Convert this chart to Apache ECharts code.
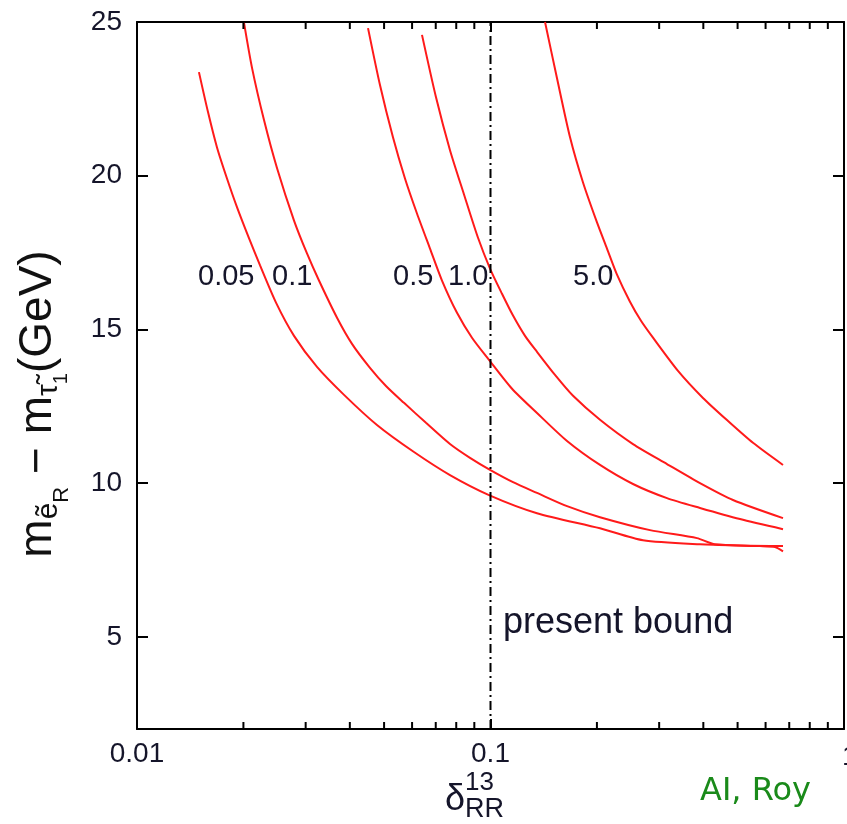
<!DOCTYPE html>
<html>
<head>
<meta charset="utf-8">
<script src="https://cdn.jsdelivr.net/npm/echarts@6/dist/echarts.min.js"></script>
<style>
html,body{margin:0;padding:0;background:#fff;}
#chart{width:847px;height:824px;}
</style>
</head>
<body>
<div id="chart"></div>
<script>
// ---- data ----
const xMin = 0.01, xMax = 1;
const yMin = 2, yMax = 25;
const yTicks = [5, 10, 15, 20, 25];
const xTickLabels = {0.01: '0.01', 0.1: '0.1', 1: '1'};
const minorTickVals = [0.02,0.03,0.04,0.05,0.06,0.07,0.08,0.09,0.2,0.3,0.4,0.5,0.6,0.7,0.8,0.9];
const presentBound = 0.1;

const curveNames = ['0.05', '0.1', '0.5', '1.0', '5.0'];
const c005x = [0.01497,0.01588,0.01684,0.01797,0.01919,0.02075,0.02229,0.02473,0.02781,0.03230,0.03852,0.04774,0.06075,0.07681,0.09903,0.13539,0.20406,0.27001,0.39136,0.57852,0.63798,0.67209];
const c005y = [23.37,22.07,20.92,19.91,18.97,17.96,17.08,15.87,14.79,13.78,12.87,11.89,11.01,10.26,9.61,9.02,8.53,8.14,8.01,7.95,7.92,7.78];
const c01x = [0.02008,0.02116,0.02288,0.02490,0.02781,0.03026,0.03272,0.03680,0.04057,0.04561,0.05062,0.05692,0.06569,0.07681,0.08750,0.09968,0.11580,0.13539,0.16463,0.20406,0.28260,0.38379,0.43157,0.67209];
const c01y = [24.97,23.50,21.80,20.24,18.54,17.47,16.59,15.38,14.53,13.75,13.16,12.61,11.96,11.27,10.82,10.43,10.03,9.68,9.25,8.89,8.47,8.21,8.01,7.95];
const c05x = [0.04503,0.04868,0.05298,0.05729,0.06195,0.06743,0.07291,0.08040,0.08864,0.09903,0.11505,0.13539,0.16463,0.20406,0.25297,0.31572,0.39136,0.50791,0.67209];
const c05y = [24.80,22.95,21.25,19.91,18.77,17.63,16.59,15.54,14.73,14.01,13.07,12.28,11.37,10.59,9.97,9.51,9.19,8.83,8.50];
const c10x = [0.06400,0.07012,0.07681,0.08415,0.09219,0.09968,0.10778,0.11580,0.12521,0.13539,0.15222,0.17120,0.20406,0.25297,0.31572,0.39136,0.48528,0.67209];
const c10y = [24.58,22.55,20.83,19.39,17.98,16.98,16.16,15.45,14.79,14.27,13.52,12.84,12.06,11.27,10.62,10.00,9.45,8.86];
const c50x = [0.14263,0.15422,0.16788,0.18269,0.20011,0.21357,0.22796,0.24807,0.26651,0.28818,0.33918,0.39908,0.46970,0.55273,0.67209];
const c50y = [25.00,23.17,21.25,19.78,18.48,17.63,16.78,15.90,15.28,14.73,13.65,12.77,12.02,11.31,10.59];
const curvesX = [c005x, c01x, c05x, c10x, c50x];
const curvesY = [c005y, c01y, c05y, c10y, c50y];

// ---- chart ----
const chart = echarts.init(document.getElementById('chart'), null, {renderer: 'canvas'});
const FONT = 'Liberation Sans, Arial, Helvetica, sans-serif';
const TXT = '#15152a';

function axisX(pos, showLabel) {
  return {
    type: 'log', logBase: 10, min: xMin, max: xMax, position: pos,
    axisLine: {show: true, lineStyle: {color: '#000', width: 2}},
    axisTick: {show: true, inside: true, length: 10, lineStyle: {color: '#000', width: 2}},
    minorTick: {show: false},
    splitLine: {show: false},
    axisLabel: {
      show: showLabel, fontSize: 28, fontFamily: FONT, color: TXT, margin: 11,
      showMinLabel: true, showMaxLabel: true,
      formatter: v => {
        const key = Math.abs(v - 1) < 1e-9 ? 1 : (Math.abs(v - 0.1) < 1e-9 ? 0.1 : 0.01);
        return key === 1 ? '' : xTickLabels[key];
      }
    }
  };
}
function axisY(pos, showLabel) {
  return {
    type: 'value', min: yMin, max: yMax, position: pos,
    axisLine: {show: true, lineStyle: {color: '#000', width: 2}},
    axisTick: {show: true, inside: true, length: 11, customValues: yTicks, lineStyle: {color: '#000', width: 2}},
    splitLine: {show: false},
    axisLabel: {show: showLabel, customValues: yTicks, fontSize: 28, fontFamily: FONT, color: TXT, margin: 15}
  };
}

const series = curvesX.map((xs, i) => ({
  name: curveNames[i], type: 'line', xAxisIndex: 0, yAxisIndex: 0,
  data: xs.map((x, j) => [x, curvesY[i][j]]),
  showSymbol: false, symbol: 'none', smooth: 0.25,
  lineStyle: {color: '#ff1a1a', width: 2},
  z: 3
}));
series.push({
  type: 'line', xAxisIndex: 0, yAxisIndex: 0,
  data: [[presentBound, yMin], [presentBound, yMax]],
  symbol: 'none',
  lineStyle: {color: '#000', width: 2, type: [9, 4, 2, 4]},
  z: 4
});
series.push({
  type: 'custom', xAxisIndex: 0, yAxisIndex: 0, silent: true, clip: false,
  data: minorTickVals.map(v => [v, yMin]),
  renderItem: (params, api) => {
    const v = api.value(0);
    const b = api.coord([v, yMin]);
    const t = api.coord([v, yMax]);
    return {type: 'group', children: [
      {type: 'line', shape: {x1: b[0], y1: b[1], x2: b[0], y2: b[1] - 7}, style: {stroke: '#000', lineWidth: 2}},
      {type: 'line', shape: {x1: t[0], y1: t[1], x2: t[0], y2: t[1] + 7}, style: {stroke: '#000', lineWidth: 2}}
    ]};
  },
  z: 5
});

// measure helper for composed labels
const mctx = document.createElement('canvas').getContext('2d');
function tw(str, fs) { mctx.font = fs + 'px ' + FONT; return mctx.measureText(str).width; }

// y-axis title pieces (rotated group)
const yPieces = [
  {t: 'm', fs: 46, dy: 0},
  {t: 'ẽ', fs: 30, dy: 6},
  {t: 'R', fs: 22, dy: 16},
  {t: ' − m', fs: 46, dy: 0},
  {t: 'τ̃', fs: 30, dy: 6},
  {t: '1', fs: 20, dy: 15},
  {t: '(GeV)', fs: 46, dy: 0}
];
let acc = 0;
const yChildren = yPieces.map(p => {
  const el = {type: 'text', x: acc, y: p.dy - 0.33 * p.fs,
    style: {text: p.t, fontSize: p.fs, fontFamily: FONT, fill: '#111', align: 'left', verticalAlign: 'middle'}};
  acc += tw(p.t, p.fs);
  return el;
});
const yTitleW = acc;

const labelStyle = (txt, x, y, fs, extra) => Object.assign({
  type: 'text', x: x, y: y,
  style: {text: txt, fontSize: fs, fontFamily: FONT, fill: TXT, align: 'left', verticalAlign: 'middle'}
}, extra || {});

const graphics = [
  {type: 'group', x: 53, y: 404 + yTitleW / 2, rotation: Math.PI / 2, children: yChildren},
  labelStyle('0.05', 198, 277, 29),
  labelStyle('0.1', 272, 277, 29),
  labelStyle('0.5', 393, 277, 29),
  labelStyle('1.0', 448, 277, 29),
  labelStyle('5.0', 573, 277, 29),
  labelStyle('present bound', 503, 623, 36),
  labelStyle('1', 842, 757, 28),
  // x-axis title delta_RR^13
  labelStyle('δ', 445, 800, 36),
  labelStyle('13', 465, 783, 26),
  labelStyle('RR', 465, 810, 27),
  {type: 'text', x: 700, y: 792, style: {text: 'AI, Roy', fontSize: 32, fontFamily: 'DejaVu Sans, Verdana, sans-serif', fill: '#1a8a1a', align: 'left', verticalAlign: 'middle'}}
];

chart.setOption({
  animation: false,
  backgroundColor: '#fff',
  grid: {left: 137, right: 3, top: 22, bottom: 95, containLabel: false},
  xAxis: [axisX('bottom', true), axisX('top', false)],
  yAxis: [axisY('left', true), axisY('right', false)],
  series: series,
  graphic: graphics
});
</script>
</body>
</html>
